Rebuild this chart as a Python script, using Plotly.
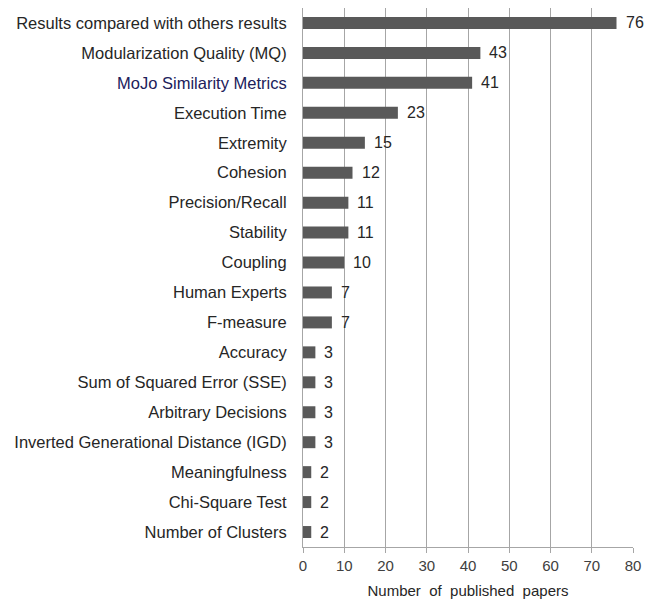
import plotly.graph_objects as go

categories = [
    "Results compared with others results",
    "Modularization Quality (MQ)",
    "MoJo Similarity Metrics",
    "Execution Time",
    "Extremity",
    "Cohesion",
    "Precision/Recall",
    "Stability",
    "Coupling",
    "Human Experts",
    "F-measure",
    "Accuracy",
    "Sum of Squared Error (SSE)",
    "Arbitrary Decisions",
    "Inverted Generational Distance (IGD)",
    "Meaningfulness",
    "Chi-Square Test",
    "Number of Clusters",
]
values = [76, 43, 41, 23, 15, 12, 11, 11, 10, 7, 7, 3, 3, 3, 3, 2, 2, 2]
x_ticks = [0, 10, 20, 30, 40, 50, 60, 70, 80]

font_family = "Liberation Sans, Arial, sans-serif"

ticktext = []
for c in categories:
    if c == "MoJo Similarity Metrics":
        ticktext.append('<span style="color:#20205a">' + c + "</span>")
    else:
        ticktext.append(c)

fig = go.Figure()
fig.add_trace(go.Bar(
    x=values,
    y=categories,
    orientation="h",
    width=0.4,
    marker=dict(color="#595959", line=dict(width=0)),
    showlegend=False,
))

for c, v in zip(categories, values):
    fig.add_annotation(
        x=v, y=c, text=str(v), showarrow=False,
        xanchor="left", xshift=7,
        font=dict(family=font_family, size=16, color="#262626"),
    )

fig.update_layout(
    width=649, height=593,
    margin=dict(l=295, r=24, t=0, b=54, autoexpand=False),
    plot_bgcolor="white", paper_bgcolor="white",
    font=dict(family=font_family, size=16.5, color="#262626"),
    bargap=0.6,
)
fig.update_xaxes(
    range=[0, 80], tickvals=x_ticks, ticktext=[str(t) for t in x_ticks],
    showgrid=True, gridcolor="#a6a6a6", gridwidth=1,
    showline=True, linecolor="#a6a6a6", linewidth=1,
    ticks="outside", ticklen=5, tickcolor="#a6a6a6",
    tickfont=dict(size=15, color="#404040"),
    title=dict(text="Number&nbsp; of&nbsp; published&nbsp; papers",
               font=dict(size=15, color="#262626"), standoff=12),
    zeroline=False, fixedrange=True, automargin=False,
)
fig.update_yaxes(
    categoryorder="array", categoryarray=categories,
    tickvals=categories, ticktext=ticktext,
    range=[17.5, -0.5],
    showline=True, linecolor="#a6a6a6", linewidth=1,
    showgrid=False, ticks="", ticklabelstandoff=12,
    tickfont=dict(size=16.5, color="#262626"),
    fixedrange=True, automargin=False,
)

fig.write_html("out.html")
